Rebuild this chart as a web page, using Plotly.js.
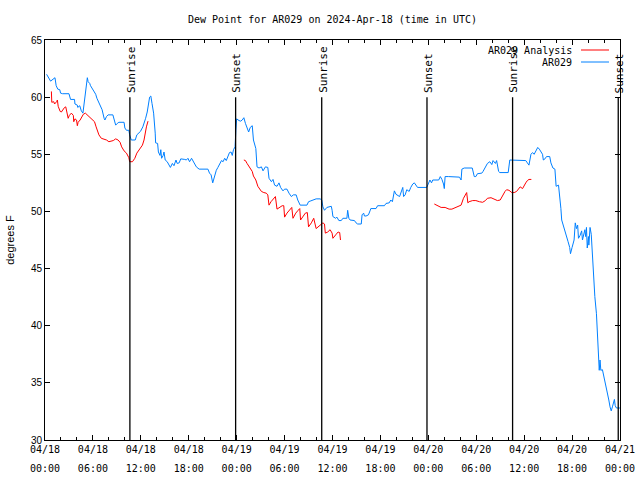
<!DOCTYPE html>
<html>
<head>
<meta charset="utf-8">
<script src="https://cdn.plot.ly/plotly-3.0.1.min.js"></script>
<style>html,body{margin:0;padding:0;background:#fff;}#chart{width:640px;height:480px;}</style>
</head>
<body>
<div id="chart"></div>
<script>
// ---- data (hours after 2024-04-18 00:00 UTC) ----
const stationHours = [0.2,0.5,0.7,1.25,1.4,1.6,1.85,1.95,2.2,3.0,3.1,3.2,3.7,3.75,4.05,4.1,4.35,4.45,4.55,4.75,5.05,5.3,5.4,5.6,5.7,5.9,6.1,6.35,6.5,6.75,6.95,7.15,7.4,7.5,7.7,7.9,8.5,8.6,8.85,9.05,9.25,9.9,10.0,10.2,10.5,10.6,10.8,11.3,11.5,11.95,12.25,12.6,12.8,13.1,13.25,13.4,13.6,13.8,13.85,14.1,14.2,14.4,14.5,14.6,14.8,14.9,15.05,15.3,15.55,15.7,15.95,16.15,16.4,16.55,16.8,17.0,17.5,17.7,17.9,18.1,18.35,18.55,18.75,18.95,19.3,20.4,20.6,20.8,21.0,21.25,21.45,21.65,21.85,22.1,22.3,22.5,22.7,22.9,23.1,23.3,23.45,23.6,23.8,23.9,24.0,24.3,24.5,24.7,24.9,25.1,25.3,25.5,25.7,25.95,26.1,26.4,26.55,26.8,27.1,27.3,27.6,27.9,28.05,28.35,28.55,28.75,29.05,29.3,29.5,29.8,30.0,30.3,30.55,30.85,31.1,31.45,31.65,31.95,32.8,33.0,33.2,33.55,33.95,34.45,34.65,34.8,35.0,35.3,35.85,35.95,36.05,36.4,36.55,36.8,37.1,37.3,37.8,37.9,38.05,38.2,38.75,38.95,39.15,39.6,39.7,39.9,40.0,40.2,40.5,40.7,40.8,41.45,41.65,42.5,42.7,43.1,43.3,43.5,43.75,43.95,44.15,44.4,44.6,44.8,44.9,45.1,45.3,45.6,45.8,46.05,46.25,46.45,46.65,47.8,48.05,48.2,48.4,48.55,49.3,49.5,49.7,49.9,50.0,50.1,50.5,51.25,51.9,52.1,52.2,52.5,53.5,53.75,53.95,54.15,54.7,54.85,55.1,55.4,55.7,55.95,56.1,56.4,56.55,56.8,56.95,58.0,58.2,59.6,60.2,60.4,60.6,60.85,61.05,61.25,61.45,61.7,61.9,62.1,62.3,62.4,62.6,62.8,63.2,63.35,63.6,63.85,64.0,64.3,64.45,64.6,64.7,64.9,65.0,65.2,65.35,65.5,65.7,65.8,66.0,66.25,66.4,66.55,66.7,66.8,67.0,67.2,67.3,67.4,67.6,67.7,67.8,67.9,68.05,68.1,68.25,68.4,68.5,68.6,68.75,68.85,69.05,69.2,69.3,69.4,69.5,69.6,69.8,69.9,70.1,70.2,70.4,70.6,70.75,70.9,71.05,71.15,71.3,71.4,71.55,72.0];
const stationDew = [62.0,61.65,61.4,61.7,61.0,60.7,60.65,60.35,60.3,60.3,59.9,59.8,59.8,59.4,59.3,59.1,59.25,59.0,58.8,58.6,60.5,61.7,61.35,61.2,61.0,60.8,60.5,60.25,59.9,59.45,59.2,58.9,58.15,58.0,58.3,58.45,58.45,58.15,57.55,57.7,57.8,57.8,57.3,57.1,57.1,56.7,56.25,56.25,56.7,57.0,57.4,58.15,58.7,60.0,60.1,59.45,58.6,56.85,56.0,55.95,55.2,54.9,55.4,54.65,54.9,55.2,54.5,54.35,54.05,53.85,54.2,54.0,54.5,54.2,54.25,54.6,54.55,54.5,54.65,54.35,54.65,54.35,54.15,53.9,53.7,53.7,53.35,53.2,52.5,53.2,53.6,53.85,54.15,54.45,54.35,54.65,54.45,54.8,55.15,55.2,54.9,55.4,55.65,57.1,58.1,57.95,57.9,58.0,58.2,57.7,57.25,56.95,57.35,57.5,56.25,55.5,53.9,53.8,53.9,53.55,53.9,53.85,52.9,52.6,52.8,52.3,52.2,52.5,52.1,51.8,51.95,51.95,51.6,51.3,51.45,51.45,51.0,50.55,50.55,50.85,50.9,51.0,51.1,51.1,51.0,50.4,50.1,50.35,50.45,50.1,49.55,49.4,49.5,49.2,49.2,49.4,49.4,50.1,49.4,49.25,49.2,49.0,48.9,48.9,49.7,49.85,49.6,49.6,49.7,50.05,50.25,50.25,50.5,50.5,50.7,50.75,51.0,50.85,51.8,51.5,51.4,51.3,51.7,52.1,51.3,51.45,51.9,51.75,52.1,52.4,52.5,52.3,52.1,52.1,52.6,52.75,52.5,52.75,52.75,53.05,52.8,52.4,52.0,53.05,53.05,53.0,53.0,52.75,53.7,53.8,53.8,53.05,53.05,53.3,53.35,53.5,53.8,54.2,54.35,54.1,54.45,54.2,54.45,53.5,53.4,53.4,54.5,54.5,54.45,54.25,54.05,55.0,55.15,55.0,55.3,55.6,55.45,55.15,55.0,54.5,54.6,54.8,54.8,54.25,53.8,53.7,52.2,52.3,51.45,50.25,49.25,48.8,48.5,48.2,47.8,47.35,46.85,46.3,46.85,47.5,49.0,48.5,48.8,47.65,47.9,48.3,47.5,47.9,48.4,47.8,48.6,46.8,47.8,47.05,48.6,48.0,46.6,45.2,43.7,42.55,41.05,39.1,37.0,36.1,37.0,36.1,36.15,35.85,35.25,34.7,34.1,33.5,32.9,32.55,32.9,33.2,33.55,33.0,32.8,32.8];

// analysis series; null marks a gap between runs
const analysisHours = [0.8,0.85,1.1,1.2,1.45,1.55,1.65,1.9,2.05,2.2,2.45,2.6,2.7,2.9,3.05,3.3,3.55,3.6,3.75,3.95,4.05,4.15,4.4,4.6,4.8,5.05,5.3,5.55,5.8,6.05,6.2,6.4,6.55,6.75,7.05,7.4,7.7,8.0,8.3,8.55,8.85,9.15,9.4,9.6,9.9,10.2,10.5,10.6,10.95,11.25,11.5,11.9,12.2,12.4,12.55,12.7,12.9,
  18.0,
  24.9,25.1,25.3,25.55,25.7,25.95,26.1,26.4,26.65,26.9,27.1,27.4,27.7,27.9,28.05,28.3,28.6,28.85,29.05,29.4,29.7,29.9,30.0,30.3,30.6,30.9,31.05,31.4,31.7,31.9,32.0,32.3,32.6,32.85,33.0,33.35,33.65,33.95,34.3,34.6,34.8,35.0,35.1,35.4,35.7,35.95,36.05,36.4,36.7,36.9,37.0,
  42.0,
  48.75,49.05,49.3,49.6,50.1,50.6,50.95,51.25,51.55,51.9,52.1,52.4,52.65,52.8,52.95,53.1,53.55,53.95,54.4,54.8,55.15,55.4,55.85,56.25,56.65,57.0,57.3,57.6,57.8,58.1,58.45,58.75,59.05,59.3,59.5,59.8,60.0,60.2,60.4,60.6,60.9];
const analysisDew = [60.5,59.55,59.6,59.4,59.6,59.75,59.2,58.75,58.7,58.9,59.1,59.15,58.75,58.15,58.4,58.6,58.4,57.85,58.1,58.0,57.5,57.8,58.0,58.3,58.5,58.6,58.45,58.3,58.15,58.0,57.85,57.4,57.1,56.7,56.4,56.35,56.25,56.1,56.15,56.2,56.35,56.25,56.05,55.65,55.3,55.1,54.7,54.35,54.35,54.65,55.1,55.5,55.8,56.25,57.0,57.4,57.9,
  null,
  54.5,54.45,54.2,53.9,53.7,53.5,53.1,52.75,52.2,51.9,51.75,51.65,51.6,51.45,50.55,50.85,51.05,51.3,50.2,50.35,50.5,50.5,49.5,49.85,50.1,50.35,49.4,49.85,50.1,50.25,49.25,49.55,49.85,49.9,48.65,49.0,49.4,48.5,48.7,48.9,49.0,48.9,48.1,48.2,48.4,48.1,47.65,47.95,48.2,48.15,47.5,
  null,
  50.65,50.55,50.45,50.35,50.35,50.2,50.2,50.3,50.4,50.5,50.55,51.15,51.45,51.65,50.75,50.85,50.95,50.95,50.85,50.8,50.95,51.15,51.2,51.1,50.95,51.0,51.45,51.75,51.9,51.85,51.65,51.65,51.75,51.95,52.15,52.0,52.3,52.5,52.7,52.8,52.8];

const sunEvents = ["Sunrise","Sunset","Sunrise","Sunset","Sunrise","Sunset"];
const sunHours = [10.63, 23.87, 34.65, 47.83, 58.55, 71.78];

const seriesNames = ["AR029 Analysis","AR029"];
const seriesColors = ["#ff0000","#0080ff"];
const chartTitle = "Dew Point for AR029 on 2024-Apr-18 (time in UTC)";
const yTitle = "degrees F";

// ---- helpers ----
const baseMs = Date.UTC(2024,3,18,0,0,0);
function toDate(h){
  if (h === null) return null;
  const d = new Date(baseMs + Math.round(h*3600000));
  return d.toISOString().slice(0,19).replace('T',' ');
}

const mono = "DejaVu Sans Mono, monospace";
const sans = "Liberation Sans, Arial, sans-serif";

const traces = [
  {x: analysisHours.map(toDate), y: analysisDew, type:'scatter', mode:'lines',
   name: seriesNames[0], line:{color:seriesColors[0], width:1}, connectgaps:false, hoverinfo:'skip'},
  {x: stationHours.map(toDate), y: stationDew, type:'scatter', mode:'lines',
   name: seriesNames[1], line:{color:seriesColors[1], width:1}, hoverinfo:'skip'},
  // carrier for the second (hour) label row
  {x: [toDate(0)], y: [null], xaxis:'x2', type:'scatter', mode:'lines', showlegend:false, hoverinfo:'skip'}
];

const shapes = sunHours.map(h => ({
  type:'line', xref:'x', yref:'y', x0: toDate(h), x1: toDate(h), y0:30, y1:60,
  line:{color:'#000', width:1.3}
}));

const annotations = sunHours.map((h,i) => ({
  xref:'x', yref:'y', x: toDate(h), y: 60, text: sunEvents[i], textangle:-90,
  showarrow:false, xanchor:'center', yanchor:'bottom', yshift:2, xshift:1,
  font:{family:mono, size:11, color:'#000'}
}));

// manual legend (text right-aligned, sample line to the right) in paper coords
const plotL = 45, plotR = 620, plotT = 40, plotB = 440;
const px = v => (v - plotL)/(plotR - plotL);
const py = v => (plotB - v)/(plotB - plotT);
[50, 62].forEach((yy, i) => {
  annotations.push({xref:'paper', yref:'paper', x: px(574), y: py(yy), text: seriesNames[i],
    showarrow:false, xanchor:'right', yanchor:'middle', font:{family:mono, size:10, color:'#000'}});
  shapes.push({type:'line', xref:'paper', yref:'paper', x0: px(581), x1: px(609), y0: py(yy), y1: py(yy),
    line:{color: seriesColors[i], width:1}});
});

const xCommon = {
  type:'date', range:[toDate(0), toDate(72)],
  tickmode:'linear', tick0: toDate(0), dtick: 6*3600000,
  showgrid:false, zeroline:false,
  tickfont:{family:mono, size:10, color:'#000'}
};

const layout = {
  width:640, height:480,
  margin:{l:plotL, r:640-plotR, t:plotT, b:480-plotB, pad:0},
  paper_bgcolor:'#fff', plot_bgcolor:'#fff',
  showlegend:false,
  title:{text: chartTitle, x:0.5, xref:'paper', xanchor:'center', y:1-19/480, yanchor:'middle',
         font:{family:mono, size:10, color:'#000'}},
  xaxis: Object.assign({}, xCommon, {
    tickformat:'%m/%d',
    ticks:'inside', ticklen:5, tickwidth:1, tickcolor:'#000',
    minor:{dtick: 2*3600000, ticks:'inside', ticklen:3, tickwidth:1, tickcolor:'#000'},
    showline:true, linecolor:'#000', linewidth:1, mirror:'ticks'
  }),
  xaxis2: Object.assign({}, xCommon, {
    overlaying:'x', matches:'x', anchor:'y', side:'bottom',
    tickformat:'%H:%M', ticks:'', showline:false, ticklabelstandoff:21
  }),
  yaxis:{
    range:[30,65], tickmode:'linear', tick0:30, dtick:5,
    ticks:'inside', ticklen:5, tickwidth:1, tickcolor:'#000',
    showline:true, linecolor:'#000', linewidth:1, mirror:'ticks',
    showgrid:false, zeroline:false,
    tickfont:{family:sans, size:10, color:'#000'},
    title:{text: yTitle, font:{family:sans, size:11, color:'#000'}, standoff:14}
  },
  shapes: shapes,
  annotations: annotations
};

Plotly.newPlot('chart', traces, layout, {staticPlot:true, displayModeBar:false});
</script>
</body>
</html>
